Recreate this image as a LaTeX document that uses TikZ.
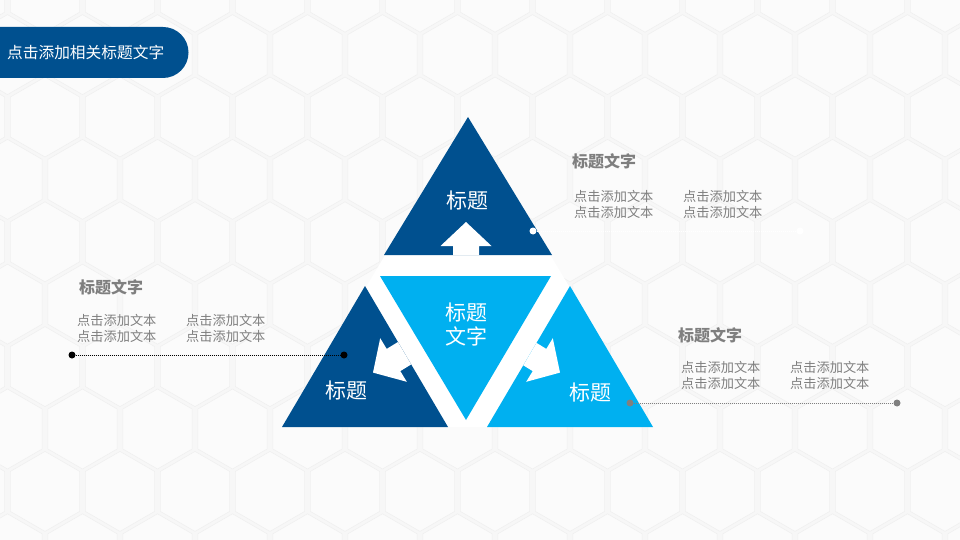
\documentclass[tikz,border=0pt]{standalone}
\usepackage{fontspec}
\setmainfont{Noto Sans CJK SC}
\definecolor{dblue}{HTML}{00508F}
\definecolor{lblue}{HTML}{00B0F0}
\definecolor{txtgray}{HTML}{7F7F7F}
\definecolor{dotgray}{HTML}{808080}
\definecolor{bgcol}{HTML}{F7F7F7}
\definecolor{hexfill}{HTML}{FBFBFB}
\definecolor{hexline}{HTML}{F0F0F0}
\begin{document}
\begin{tikzpicture}[x=1pt,y=-1pt,
  hexcell/.style={fill=hexfill,draw=hexline,line width=0.6pt},
  trilbl/.style={text=white,font=\fontsize{21}{24}\selectfont,align=center,inner sep=0pt},
  ttl/.style={text=txtgray,font=\fontsize{16}{16}\selectfont\bfseries,anchor=west,inner sep=0pt},
  bodytxt/.style={text=txtgray,font=\fontsize{13.2}{16}\selectfont,anchor=west,inner sep=0pt,align=left},
  dotnode/.style={circle,inner sep=0pt,minimum size=7pt},
  dotline/.style={line width=1pt,dash pattern=on 1pt off 1pt}]
\useasboundingbox (0,0) rectangle (960,540);
\fill[bgcol] (0,0) rectangle (960,540);
% hexagon background
\begin{scope}
\clip (0,0) rectangle (960,540);
\foreach \j in {0,...,9}{
  \foreach \i in {-1,...,13}{
    \pgfmathsetmacro\cx{45+75*\i+37.5*mod(\j,2)}
    \pgfmathsetmacro\cy{-7.8+62.4*\j}
    \draw[hexcell] (\cx,\cy) +(90:40) -- +(30:40) -- +(-30:40) -- +(-90:40) -- +(-150:40) -- +(150:40) -- cycle;
  }
}
\end{scope}
% white gaps between the triangles
\fill[white] (282,427) -- (653,427) -- (468,117) -- cycle;
% header
\fill[dblue] (0,27) -- (163,27) arc[start angle=-90,end angle=90,radius=25.5] -- (0,78) -- cycle;
\node[text=white,font=\fontsize{15.7}{16}\selectfont,anchor=west,inner sep=0pt] (hdr) at (7,52.5) {点击添加相关标题文字};
% triangles
\fill[dblue] (384,255) -- (552,255) -- (468,117) -- cycle;
\fill[lblue] (380,276) -- (551,276) -- (466,420) -- cycle;
\fill[dblue] (282,427) -- (448,427) -- (365,286) -- cycle;
\fill[lblue] (487,427) -- (653,427) -- (570,286) -- cycle;
% arrows
\begin{scope}
\clip (384,255) -- (552,255) -- (468,117) -- cycle;
\fill[white] (466,222) -- (491.5,246) -- (479,246) -- (479,270) -- (453,270) -- (453,246) -- (440.5,246) -- cycle;
\end{scope}
\begin{scope}
\clip (282,427) -- (448,427) -- (365,286) -- cycle;
\fill[white] (373,372.6) -- (406.8,381.8) -- (400.3,371.1) -- (443,345) -- (429.3,322.8) -- (386.7,348.9) -- (380.2,338.2) -- cycle;
\end{scope}
\begin{scope}
\clip (487,427) -- (653,427) -- (570,286) -- cycle;
\fill[white] (560,372.6) -- (526.2,381.8) -- (532.7,371.1) -- (490,345) -- (503.7,322.8) -- (546.3,348.9) -- (552.8,338.2) -- cycle;
\end{scope}
% triangle labels
\node[trilbl] (ttop) at (467,201) {标题};
\node[trilbl] (tmid) at (466,325) {标题\\文字};
\node[trilbl] (tleft) at (346,391) {标题};
\node[trilbl] (tright) at (590,393) {标题};
% text blocks
\node[ttl] (h1) at (572,161) {标题文字};
\node[bodytxt] (b1a) at (574,204) {点击添加文本\\点击添加文本};
\node[bodytxt] (b1b) at (683,204) {点击添加文本\\点击添加文本};
\node[ttl] (h2) at (79,287) {标题文字};
\node[bodytxt] (b2a) at (77,328) {点击添加文本\\点击添加文本};
\node[bodytxt] (b2b) at (186,328) {点击添加文本\\点击添加文本};
\node[ttl] (h3) at (678,335) {标题文字};
\node[bodytxt] (b3a) at (681,375) {点击添加文本\\点击添加文本};
\node[bodytxt] (b3b) at (790,375) {点击添加文本\\点击添加文本};
% dots and dotted connectors
\node[dotnode,fill=white] (wd1) at (533,231) {};
\node[dotnode,fill=white] (wd2) at (800,231) {};
\draw[dotline,white] (wd1) -- (wd2);
\node[dotnode,fill=black] (kd1) at (72,355) {};
\node[dotnode,fill=black] (kd2) at (344,355) {};
\draw[dotline,black] (kd1) -- (kd2);
\node[dotnode,fill=dotgray] (gd1) at (630,403) {};
\node[dotnode,fill=dotgray] (gd2) at (897,403) {};
\draw[dotline,dotgray] (gd1) -- (gd2);
\end{tikzpicture}
\end{document}
